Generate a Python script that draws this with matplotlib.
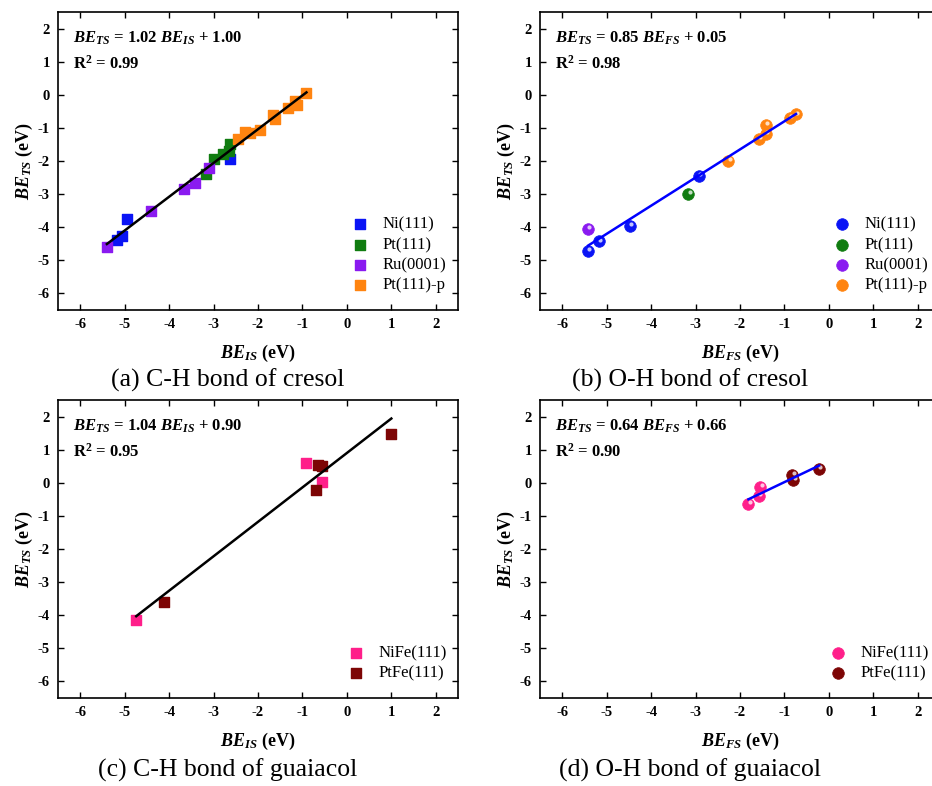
import matplotlib
matplotlib.use("Agg")
import matplotlib.pyplot as plt
import matplotlib.transforms as mtransforms
import numpy as np

plt.rcParams['font.family'] = 'Liberation Serif'
plt.rcParams['axes.unicode_minus'] = False
plt.rcParams['mathtext.fontset'] = 'custom'
plt.rcParams['mathtext.it'] = 'Liberation Serif:italic:bold'
plt.rcParams['mathtext.rm'] = 'Liberation Serif:bold'
plt.rcParams['mathtext.bf'] = 'Liberation Serif:bold'

# (a) C-H bond of cresol  (x = BE_IS, y = BE_TS)
a_ni_x = [-2.63, -4.95, -5.06, -5.17]
a_ni_y = [-1.95, -3.75, -4.26, -4.39]
a_pt_x = [-2.63, -2.66, -2.78, -3.00, -3.16]
a_pt_y = [-1.50, -1.70, -1.78, -1.95, -2.38]
a_ru_x = [-3.11, -3.41, -3.67, -4.41, -5.40]
a_ru_y = [-2.20, -2.65, -2.85, -3.50, -4.59]
a_ptp_x = [-0.91, -1.12, -1.17, -1.32, -1.62, -1.66, -1.96, -2.19, -2.29, -2.45]
a_ptp_y = [0.04, -0.30, -0.18, -0.40, -0.72, -0.62, -1.05, -1.15, -1.12, -1.35]

# (b) O-H bond of cresol  (x = BE_FS, y = BE_TS)
b_ni_x = [-5.42, -5.18, -4.48, -2.93]
b_ni_y = [-4.72, -4.43, -3.96, -2.46]
b_pt_x = [-3.16]
b_pt_y = [-3.00]
b_ru_x = [-5.42]
b_ru_y = [-4.04]
b_ptp_x = [-2.26, -1.58, -1.41, -1.41, -0.88, -0.74]
b_ptp_y = [-2.00, -1.34, -1.17, -0.92, -0.69, -0.59]

# (c) C-H bond of guaiacol
c_nife_x = [-4.74, -0.92, -0.57]
c_nife_y = [-4.14, 0.59, 0.02]
c_ptfe_x = [-4.12, -0.64, -0.55, -0.69, 1.00]
c_ptfe_y = [-3.59, 0.54, 0.52, -0.21, 1.47]

# (d) O-H bond of guaiacol
d_nife_x = [-1.81, -1.58, -1.54]
d_nife_y = [-0.65, -0.40, -0.12]
d_ptfe_x = [-0.82, -0.80, -0.22]
d_ptfe_y = [0.24, 0.08, 0.43]

# fits: slope, intercept, R^2
fits = {'a': (1.02, 1.00, 0.99), 'b': (0.85, 0.05, 0.98),
        'c': (1.04, 0.90, 0.95), 'd': (0.64, 0.66, 0.90)}

captions = {'a': '(a) C-H bond of cresol', 'b': '(b) O-H bond of cresol',
            'c': '(c) C-H bond of guaiacol', 'd': '(d) O-H bond of guaiacol'}

c_ni = '#0a14f5'
c_pt = '#107c10'
c_ru = '#8a1af0'
c_ptp = '#ff8410'
c_nife = '#ff1f8a'
c_ptfe = '#7d0505'

W, H = 932, 786
fig = plt.figure(figsize=(W / 100, H / 100), dpi=100)


def make_ax(left, top):
    ax = fig.add_axes([left / W, 1 - (top + 298) / H, 400 / W, 298 / H])
    ax.set_xlim(-6.5, 2.5)
    ax.set_ylim(-6.5, 2.5)
    ax.set_xticks(range(-6, 3))
    ax.set_yticks(range(-6, 3))
    ax.tick_params(direction='in', top=True, right=True, length=4,
                   width=1, labelsize=10.5, pad=6)
    for lab in ax.get_xticklabels() + ax.get_yticklabels():
        lab.set_fontweight('bold')
    for s in ax.spines.values():
        s.set_linewidth(1.2)
    return ax


def sphere(ax, x, y, color, label):
    ax.scatter(x, y, s=70, color=color, edgecolors=color, linewidths=0.5,
               label=label, zorder=3)
    tr = mtransforms.offset_copy(ax.transData, fig=fig, x=0.9, y=1.3, units='points')
    ax.scatter(x, y, s=9, color='white', alpha=0.75, linewidths=0,
               transform=tr, zorder=4)


def fit_line(ax, key, xs, color):
    m, b, r2 = fits[key]
    xx = np.array([min(xs), max(xs)])
    ax.plot(xx, m * xx + b, color=color, lw=1.8, zorder=5)


def decorate(ax, key, sub):
    m, b, r2 = fits[key]
    ax.text(0.037, 0.942, r'$BE_{TS}$' + ' = %.2f ' % m + r'$BE_{%s}$' % sub + ' + %.2f' % b,
            transform=ax.transAxes, fontsize=12, fontweight='bold', va='top')
    ax.text(0.037, 0.855, r'R$^{\mathbf{2}}$ = %.2f' % r2, transform=ax.transAxes,
            fontsize=12, fontweight='bold', va='top')
    ax.set_xlabel(r'$BE_{%s}$' % sub + ' (eV)', fontsize=13, fontweight='bold', labelpad=8)
    ax.set_ylabel(r'$BE_{TS}$' + ' (eV)', fontsize=13, fontweight='bold', labelpad=1.5)
    ax.legend(loc='lower right', frameon=False, fontsize=12, handletextpad=0.9,
              labelspacing=0.25, borderaxespad=0.6, handlelength=0.9,
              bbox_to_anchor=(1.013, 0.0))


# (a)
ax = make_ax(58, 12)
ax.scatter(a_ni_x, a_ni_y, marker='s', s=55, color=c_ni, label='Ni(111)', zorder=3)
ax.scatter(a_pt_x, a_pt_y, marker='s', s=55, color=c_pt, label='Pt(111)', zorder=3)
ax.scatter(a_ru_x, a_ru_y, marker='s', s=55, color=c_ru, label='Ru(0001)', zorder=3)
ax.scatter(a_ptp_x, a_ptp_y, marker='s', s=55, color=c_ptp, label='Pt(111)-p', zorder=3)
fit_line(ax, 'a', a_ni_x + a_pt_x + a_ru_x + a_ptp_x, 'black')
decorate(ax, 'a', 'IS')

# (b)
ax = make_ax(540, 12)
sphere(ax, b_ni_x, b_ni_y, c_ni, 'Ni(111)')
sphere(ax, b_pt_x, b_pt_y, c_pt, 'Pt(111)')
sphere(ax, b_ru_x, b_ru_y, c_ru, 'Ru(0001)')
sphere(ax, b_ptp_x, b_ptp_y, c_ptp, 'Pt(111)-p')
fit_line(ax, 'b', b_ni_x + b_ptp_x, 'blue')
decorate(ax, 'b', 'FS')

# (c)
ax = make_ax(58, 400)
ax.scatter(c_nife_x, c_nife_y, marker='s', s=55, color=c_nife, label='NiFe(111)', zorder=3)
ax.scatter(c_ptfe_x, c_ptfe_y, marker='s', s=55, color=c_ptfe, label='PtFe(111)', zorder=3)
fit_line(ax, 'c', c_nife_x + c_ptfe_x, 'black')
decorate(ax, 'c', 'IS')

# (d)
ax = make_ax(540, 400)
sphere(ax, d_nife_x, d_nife_y, c_nife, 'NiFe(111)')
sphere(ax, d_ptfe_x, d_ptfe_y, c_ptfe, 'PtFe(111)')
fit_line(ax, 'd', d_nife_x + d_ptfe_x, 'blue')
decorate(ax, 'd', 'FS')

for key, (cx, cy) in zip('abcd', [(228, 380), (690, 380), (228, 770), (690, 770)]):
    fig.text(cx / W, 1 - cy / H, captions[key], fontsize=18.5, ha='center', va='center',
             family='Liberation Serif')

fig.savefig('out.png', dpi=100)
